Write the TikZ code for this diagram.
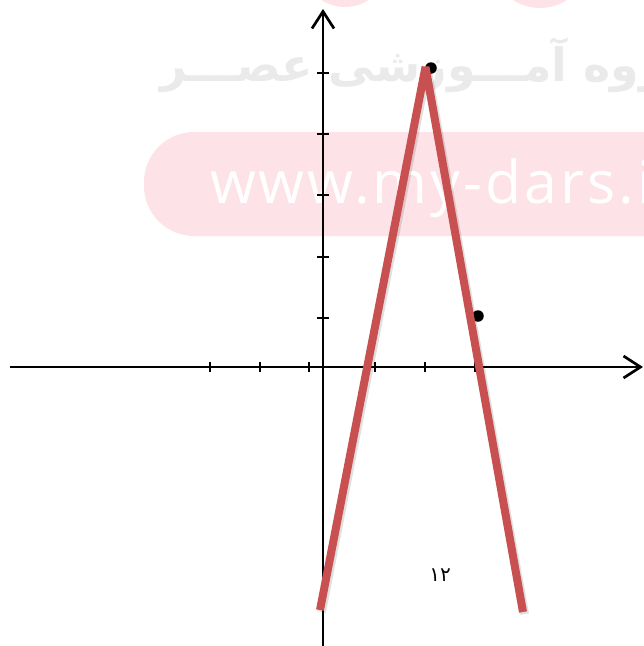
\documentclass[tikz,border=0pt]{standalone}
\usepackage{fontspec}
\usetikzlibrary{arrows.meta}
\TeXXeTstate=1
\newfontfamily\arabicfont[Script=Arabic]{DejaVu Sans}
\newfontfamily\wmfont[LetterSpace=5]{Open Sans}
\definecolor{wmpink}{RGB}{253,226,231}
\definecolor{wmgray}{RGB}{234,234,234}
\definecolor{graphred}{RGB}{200,80,80}
\begin{document}
\begin{tikzpicture}[x=1pt,y=-1pt,
  axis/.style={line width=2.7pt, -{Straight Barb[length=17pt,width=22pt]}},
  tickmark/.style={line width=2.7pt},
  graphline/.style={draw=graphred, line width=8pt, line join=bevel},
  shadowline/.style={draw=black, opacity=0.12, line width=9pt, line join=bevel},
  dotpt/.style={circle, fill=black, inner sep=0pt, minimum size=11.5pt},
  wmtext/.style={text=white, inner sep=0pt},
]
\useasboundingbox (0,0) rectangle (644,646);
\clip (0,0) rectangle (644,646);
% watermark
\fill[wmpink] (345,-36) circle (43);
\fill[wmpink] (540,-42) circle (50);
\node[anchor=base west, inner sep=0pt, text=wmgray] (wmfa) at (160,81)
  {\arabicfont\bfseries\fontsize{46}{46}\selectfont\beginR گروه آمـــوزشی عصـــر\endR};
\fill[wmpink, rounded corners=50pt] (144,132) rectangle (760,236);
\node[anchor=base west, wmtext] (wmurl) at (210,203)
  {\wmfont\fontsize{59}{59}\selectfont www.my-dars.ir};
% axes
\coordinate (xs) at (10,367);
\coordinate (xe) at (643,367);
\coordinate (ys) at (323,646);
\coordinate (ye) at (323,9);
\draw[axis] (xs) -- (xe);
\draw[axis] (ys) -- (ye);
\foreach \x in {210,260,309,375,425,475}
  \draw[tickmark] (\x,362) -- (\x,372);
\foreach \y in {73,134,195,257,318}
  \draw[tickmark] (317,\y) -- (329,\y);
% points
\node[dotpt] (p1) at (431,68) {};
\node[dotpt] (p2) at (478,316) {};
% graph
\coordinate (ga) at (320,610);
\coordinate (gt) at (425.5,67);
\coordinate (gb) at (523,612);
\draw[shadowline] ([shift={(1.5,2)}]ga) -- ([shift={(1.5,2)}]gt) -- ([shift={(1.5,2)}]gb);
\draw[graphline] (ga) -- (gt) -- (gb);
% label
\node[font=\arabicfont\fontsize{20}{20}\selectfont, inner sep=0pt] (lbl) at (440,575) {۱۲};
\end{tikzpicture}
\end{document}
